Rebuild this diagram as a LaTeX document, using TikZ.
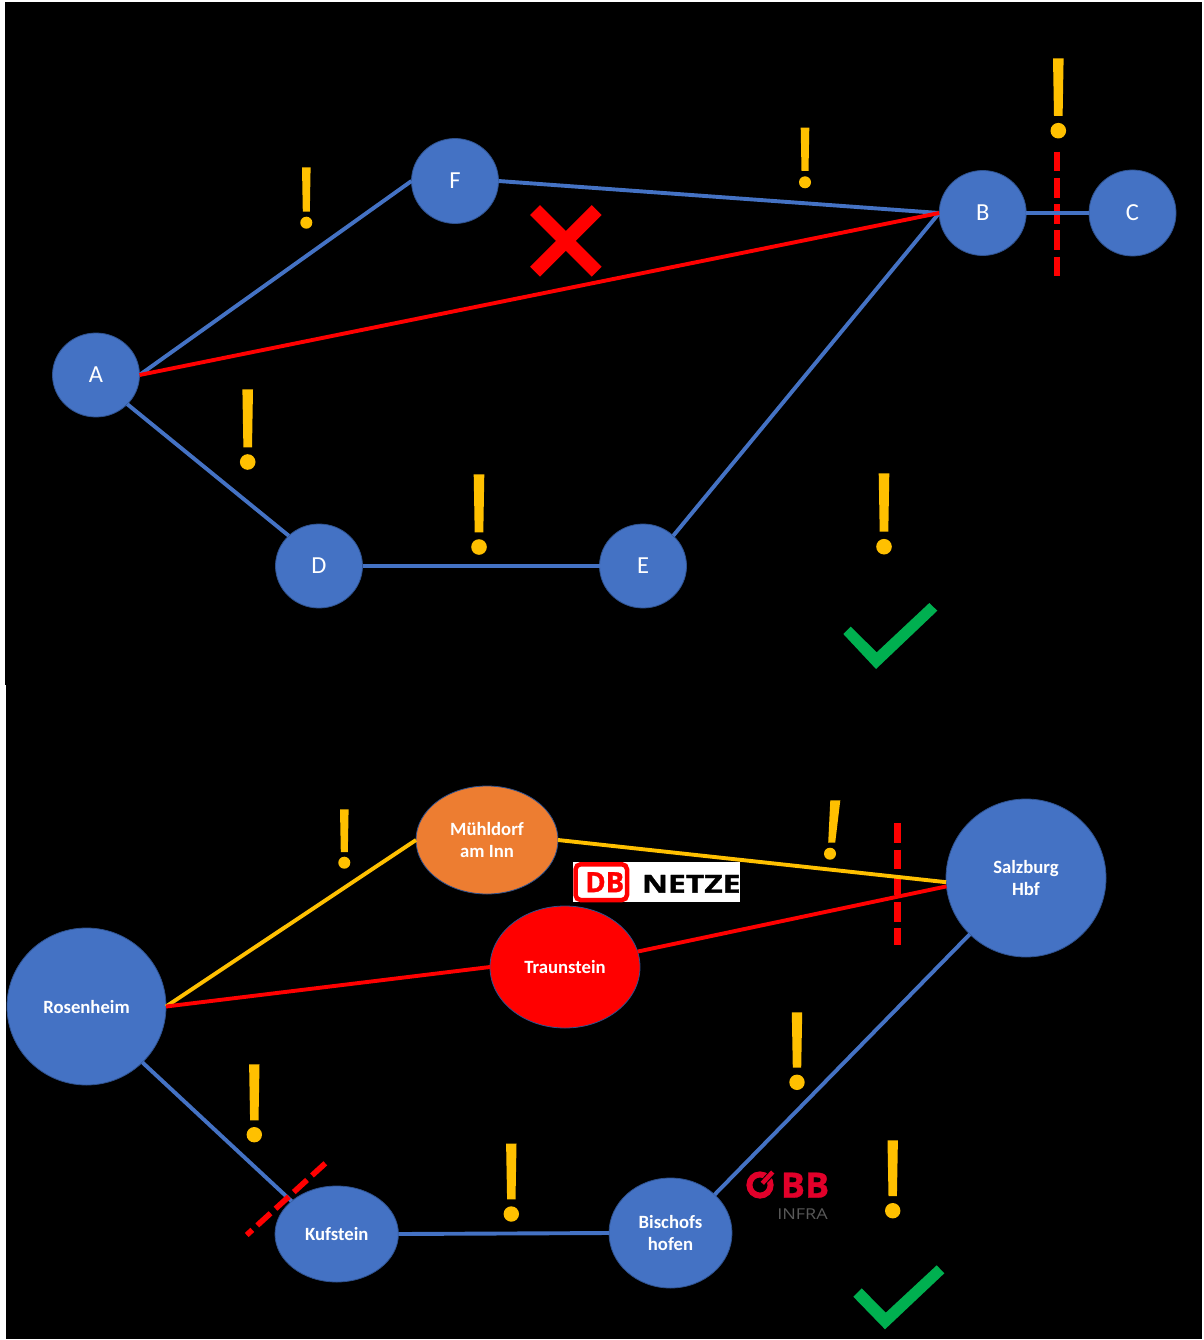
\documentclass[tikz,border=0pt]{standalone}
\usepackage{fontspec}
\usetikzlibrary{shapes.geometric}
\setmainfont{Carlito}
\newfontfamily\logofont{Open Sans}[BoldFont={Open Sans Bold},BoldFeatures={FakeBold=1.2}]
\newfontfamily\oebbfont{Open Sans}[BoldFont={Open Sans Bold},BoldFeatures={FakeBold=0.8}]
\newfontfamily\infrafont{Open Sans}
\definecolor{nodeblue}{HTML}{4472C4}
\definecolor{nodeedge}{HTML}{2F528F}
\definecolor{nodeorange}{HTML}{ED7D31}
\definecolor{gold}{HTML}{FFC000}
\definecolor{okgreen}{HTML}{00B050}
\definecolor{oebbred}{HTML}{E2002A}
\definecolor{oebbgrey}{HTML}{595959}
\tikzset{
  ell/.style 2 args={minimum width=#1pt,minimum height=#2pt},
  stn/.style={ellipse,draw=nodeedge,line width=0.8pt,fill=nodeblue,text=white,inner sep=0pt,outer sep=0pt,align=center},
  small/.style={stn,font=\fontsize{24.5}{26}\selectfont},
  big/.style={stn,font=\bfseries\fontsize{18.7}{22.5}\selectfont},
  blueline/.style={draw=nodeblue,line width=3.9pt},
  redline/.style={draw=red,line width=3.9pt},
  goldline/.style={draw=gold,line width=3.9pt},
  cutline/.style={draw=red,line width=6.7pt,dash pattern=on 19.7pt off 6.5pt},
  crossline/.style={draw=red,line width=14pt},
  checkmark/.style={fill=okgreen},
}
% top centre, bottom centre, dot centre, half widths, dot radius
\newcommand{\excl}[9]{%
  \fill[gold] (#1-#7,#2) -- (#1+#7,#2) -- (#3+#8,#4) -- (#3-#8,#4) -- cycle;
  \fill[gold] (#5,#6) circle[radius=#9pt];
}
\begin{document}
\begin{tikzpicture}[x=1pt,y=-1pt]
\useasboundingbox (0,0) rectangle (1203,1340);
\fill[white] (0,0) rectangle (1203,1340);
\fill[black] (5,2) rectangle (1202,685);
\fill[black] (6,685) rectangle (1202,1339);

% ---------- upper network: nodes
\node[small,ell={87}{84}] (A) at (96,375) {A};
\node[small,ell={87}{85}] (F) at (455,181) {F};
\node[small,ell={87}{85}] (B) at (982.7,213) {B};
\node[small,ell={87}{86}] (C) at (1132.5,213) {C};
\node[small,ell={87}{84}] (D) at (319,566) {D};
\node[small,ell={87}{84}] (E) at (643,566) {E};

\coordinate (cutBt) at (1057,151.7);
\coordinate (cutBb) at (1057,276.7);
\draw[cutline] (cutBt) -- (cutBb);

\draw[blueline] (A.east) -- (F.west);
\draw[blueline] (A.-43) -- (D.135);
\draw[blueline] (F.east) -- (B.west);
\draw[blueline] (D.east) -- (E.west);
\draw[blueline] (E.45) -- (B.west);
\draw[blueline] (B.east) -- (C.west);
\draw[redline] (A.east) -- (B.west);

\coordinate (xa) at (535,210);
\coordinate (xb) at (596.7,271.7);
\coordinate (xc) at (596.7,210);
\coordinate (xd) at (535,271.7);
\draw[crossline] (xa) -- (xb);
\draw[crossline] (xc) -- (xd);

\excl{306.3}{167.3}{306.3}{211.7}{306.3}{222.7}{4.3}{3.5}{6}
\excl{805}{127.7}{805}{171}{805}{182.3}{4.3}{3.5}{6}
\excl{1058.3}{58.3}{1058.3}{116}{1058.3}{130.7}{5.3}{4.3}{7.8}
\excl{247.7}{389.3}{247.7}{447.3}{247.7}{462}{5.3}{4.3}{7.8}
\excl{479}{474.3}{479}{532.3}{479}{547}{5.3}{4.3}{7.8}
\excl{884}{473.3}{884}{531.7}{884}{546.7}{5.3}{4.3}{7.8}

\fill[checkmark] (843.3,634) -- (850.7,626.7) -- (876.7,652.3) -- (929.3,603) -- (937.3,610.7) -- (876,669) -- cycle;

% ---------- lower network: nodes
\node[big,ell={159}{157}] (ros) at (86.5,1006.5) {Rosenheim};
\node[big,fill=nodeorange,ell={142}{108}] (mue) at (487,840) {Mühldorf\\am Inn};
\node[big,fill=red,ell={150}{122}] (tra) at (565,967) {Traunstein};
\node[big,ell={160}{158}] (sal) at (1026,878) {Salzburg\\Hbf};
\node[big,ell={123.4}{96}] (kuf) at (336.7,1234) {Kufstein};
\node[big,ell={123}{110}] (bis) at (670.5,1233) {Bischofs\\hofen};

\coordinate (cutSt) at (897.7,823.3);
\coordinate (cutSb) at (897.7,945);
\draw[cutline] (cutSt) -- (cutSb);

\draw[goldline] (ros.east) -- (mue.west);
\draw[goldline] (mue.east) -- (sal.183);
\draw[redline] (ros.east) -- (tra.west);
\draw[redline] (tra.12) -- (sal.186);
\draw[blueline] (ros.-45) -- (kuf.144);
\draw[blueline] (kuf.east) -- (bis.west);
\draw[blueline] (bis.41.5) -- (sal.225);

\coordinate (cutKt) at (325.3,1163.3);
\coordinate (cutKb) at (246.7,1235);
\draw[draw=red,line width=5.6pt,dash pattern=on 18pt off 6.7pt] (cutKt) -- (cutKb);

\excl{344.3}{809.3}{344.3}{852}{344.3}{862.7}{4.3}{3.5}{6}
\excl{835.3}{800.3}{831.7}{842.7}{830}{853.7}{5}{3.5}{6}
\excl{254.3}{1064.3}{254.3}{1120.3}{254.3}{1134.7}{5.2}{4.2}{7.7}
\excl{511.3}{1143.7}{511.3}{1199.3}{511.3}{1214}{5.2}{4.2}{7.7}
\excl{797}{1012.3}{797}{1067.7}{797}{1082.3}{5.2}{4.2}{7.7}
\excl{892.7}{1140.3}{892.7}{1196}{892.7}{1210.7}{5.2}{4.2}{7.7}

\fill[checkmark] (853.3,1296.7) -- (861.7,1288.3) -- (885.7,1312.7) -- (936.7,1265.3) -- (944.3,1273.3) -- (885,1329.3) -- cycle;

% ---------- DB Netze logo
\fill[white] (573.3,862) rectangle (740,902.3);
\draw[red,line width=4.5pt,rounded corners=5pt,fill=white] (575.6,864.3) rectangle (627,900);
\node[inner sep=0pt,text=red,font=\logofont\bfseries\fontsize{28}{28}\selectfont,xscale=0.98] (db) at (604.8,882.2) {DB};
\node[inner sep=0pt,text=black,font=\logofont\bfseries\fontsize{24.7}{24.7}\selectfont,xscale=1.29] (netze) at (691.3,883.8) {NETZE};

% ---------- OBB Infra logo
\draw[oebbred,line width=6pt] (760,1185) circle[radius=10.6pt];
\draw[black,line width=6.5pt] (761.5,1184) -- (775,1170);
\draw[oebbred,line width=4.5pt] (762.3,1183.3) -- (772.7,1172);
\node[inner sep=0pt,text=oebbred,font=\oebbfont\bfseries\fontsize{35}{35}\selectfont,xscale=1.03] (bb) at (805,1185.2) {BB};
\node[inner sep=0pt,text=oebbgrey,font=\infrafont\fontsize{15}{15}\selectfont,xscale=1.2] (infra) at (802.5,1214.5) {INFRA};
\end{tikzpicture}
\end{document}
